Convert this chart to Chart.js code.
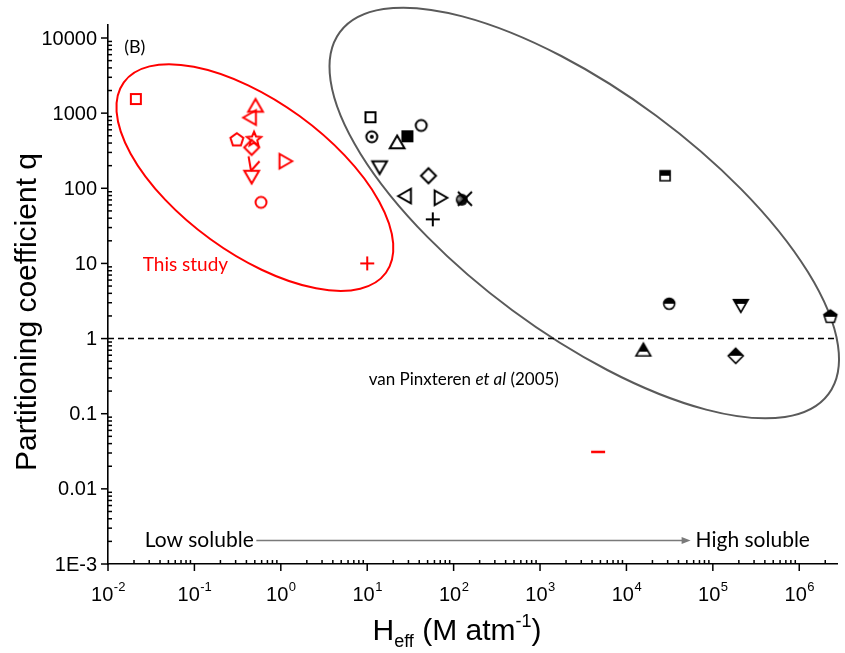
<!DOCTYPE html>
<html lang="en">
<head>
<meta charset="UTF-8">
<title>Partitioning coefficient vs Heff</title>
<script src="https://cdn.jsdelivr.net/npm/chart.js@4"></script>
<style>
  body { margin: 0; background: #fff; }
</style>
</head>
<body>
<canvas id="grafico" width="845" height="653"></canvas>
<script>
// this study (red markers)
const studyH = [0.021, 0.51, 0.46, 0.31, 0.49, 0.46, 1.08, 0.49, 0.46, 0.59, 10, 4700];
const studyQ = [1540, 1190, 875, 440, 450, 350, 229, 206, 150, 65, 10, 0.031];
const studyShapes = ['square', 'triUp', 'triLeft', 'pentagon', 'star', 'diamond', 'triRight', 'check', 'triDown', 'circle', 'plus', 'dash'];

// van Pinxteren et al (2005) (black markers)
const litH = [10.9, 11.3, 22.2, 29.2, 42.2, 13.9, 51.2, 28.6, 67.4, 124, 135, 57.4, 28000, 31300, 211000, 2290000, 15700, 184000];
const litQ = [883, 485, 388, 492, 686, 201, 147, 78.9, 74.7, 70.5, 72.6, 38.6, 147, 2.91, 2.9, 1.95, 0.67, 0.59];
const litShapes = ['square', 'circleDot', 'triUp', 'squareFilled', 'circle', 'triDown', 'diamond', 'triLeft', 'triRight', 'ball', 'cross', 'plus',
  'halfSquare', 'halfCircle', 'halfTriDown', 'halfPentagon', 'halfTriUp', 'halfDiamond'];

// q = 1 reference line
const refH = [0.01, 2.7e6];
const refQ = [1, 1];

const xMin = 0.01, xMax = Math.pow(10, 6.437);
const yMin = 0.001, yMax = Math.pow(10, 4.173);
const yTicks = [0.001, 0.01, 0.1, 1, 10, 100, 1000, 10000];
const yTickLabels = ['1E-3', '0.01', '0.1', '1', '10', '100', '1000', '10000'];
const xTickExp = [-2, -1, 0, 1, 2, 3, 4, 5, 6];

const RED = '#ff0000';
const BLACK = '#000000';

// group outlines (centre in data units, radii in px)
const ellipses = [
  { h: 0.501, q: 139, rx: 162, ry: 76, angle: 36, color: RED },
  { h: 3250, q: 46.9, rx: 304, ry: 121, angle: 36.5, color: '#5a5a5a' }
];

const ARIAL = '"Liberation Sans", Arial, sans-serif';
const CALIBRI = 'Lato, "Open Sans", sans-serif';

// ---- marker pictures ----
function marker(shape, color) {
  const c = document.createElement('canvas');
  c.width = 26; c.height = 26;
  const g = c.getContext('2d');
  g.translate(13, 13);
  g.lineWidth = 2;
  g.strokeStyle = color;
  g.fillStyle = color;
  function poly(r, n, start) {
    g.beginPath();
    for (let i = 0; i < n; i++) {
      const a = start + i * 2 * Math.PI / n;
      if (i) g.lineTo(r * Math.cos(a), r * Math.sin(a));
      else g.moveTo(r * Math.cos(a), r * Math.sin(a));
    }
    g.closePath();
  }
  const up = -Math.PI / 2;
  const outline = {
    square: () => { g.beginPath(); g.rect(-5, -5, 10, 10); },
    triUp: () => poly(8.5, 3, up),
    triDown: () => poly(8.5, 3, Math.PI / 2),
    triLeft: () => poly(8.5, 3, Math.PI),
    triRight: () => poly(8.5, 3, 0),
    diamond: () => poly(7.5, 4, up),
    pentagon: () => poly(6.8, 5, up),
    circle: () => { g.beginPath(); g.arc(0, 0, 5.5, 0, 2 * Math.PI); },
    star: () => {
      g.beginPath();
      for (let i = 0; i < 10; i++) {
        const r = i % 2 ? 3.4 : 7.5;
        const a = up + i * Math.PI / 5;
        if (i) g.lineTo(r * Math.cos(a), r * Math.sin(a));
        else g.moveTo(r * Math.cos(a), r * Math.sin(a));
      }
      g.closePath();
    }
  };
  if (outline[shape]) {
    outline[shape]();
    g.stroke();
  } else if (shape === 'squareFilled') {
    g.fillRect(-6, -6, 12, 12);
  } else if (shape === 'circleDot') {
    outline.circle(); g.stroke();
    g.beginPath(); g.arc(0, 0, 2, 0, 2 * Math.PI); g.fill();
  } else if (shape === 'ball') {
    const grad = g.createRadialGradient(-3, -1, 0.5, 0, 0, 6.5);
    grad.addColorStop(0, '#9a9a9a');
    grad.addColorStop(0.55, '#111');
    grad.addColorStop(1, '#000');
    g.fillStyle = grad;
    g.beginPath(); g.arc(0, 0, 6, 0, 2 * Math.PI); g.fill();
  } else if (shape === 'cross') {
    g.beginPath();
    g.moveTo(-7, -7); g.lineTo(7, 7);
    g.moveTo(7, -7); g.lineTo(-7, 7);
    g.stroke();
  } else if (shape === 'plus') {
    g.beginPath();
    g.moveTo(-7, 0); g.lineTo(7, 0);
    g.moveTo(0, -7); g.lineTo(0, 7);
    g.stroke();
  } else if (shape === 'dash') {
    g.lineWidth = 2.5;
    g.beginPath(); g.moveTo(-7, 0); g.lineTo(7, 0); g.stroke();
  } else if (shape === 'check') {
    g.beginPath();
    g.moveTo(-5.5, -8.5); g.lineTo(-3, 6);
    g.moveTo(5.5, -3.5); g.lineTo(-3, 6);
    g.stroke();
  } else if (shape.startsWith('half')) {
    let base = shape.slice(4);
    base = base.charAt(0).toLowerCase() + base.slice(1);
    outline[base]();
    g.fillStyle = '#fff'; g.fill();
    g.save();
    g.beginPath(); g.rect(-13, -13, 26, 13); g.clip();
    outline[base]();
    g.fillStyle = color; g.fill();
    g.restore();
    outline[base]();
    g.lineWidth = 1.6;
    g.stroke();
  }
  return c;
}
const markerCache = {};
function markerFor(shape, color) {
  const k = shape + color;
  if (!markerCache[k]) markerCache[k] = marker(shape, color);
  return markerCache[k];
}

// ---- axes, ticks, labels, annotations ----
const decor = {
  id: 'decor',
  beforeDatasetsDraw(chart) {
    const { ctx, scales: { x, y } } = chart;
    ellipses.forEach(e => {
      ctx.save();
      ctx.beginPath();
      ctx.ellipse(x.getPixelForValue(e.h), y.getPixelForValue(e.q), e.rx, e.ry, e.angle * Math.PI / 180, 0, 2 * Math.PI);
      ctx.strokeStyle = e.color;
      ctx.lineWidth = 2;
      ctx.stroke();
      ctx.restore();
    });
  },
  afterDraw(chart) {
    const { ctx, chartArea, scales: { x, y } } = chart;
    const L = chartArea.left, B = chartArea.bottom;
    ctx.save();
    ctx.strokeStyle = '#000';
    ctx.fillStyle = '#000';
    ctx.lineWidth = 1.5;
    function seg(x1, y1, x2, y2) { ctx.beginPath(); ctx.moveTo(x1, y1); ctx.lineTo(x2, y2); ctx.stroke(); }

    // y ticks: major outward, minor inward
    ctx.font = '20px ' + ARIAL;
    ctx.textAlign = 'right';
    ctx.textBaseline = 'middle';
    yTicks.forEach((v, i) => {
      const p = y.getPixelForValue(v);
      seg(L - 7, p, L, p);
      ctx.fillText(yTickLabels[i], L - 11, p + 1);
      if (i < yTicks.length - 1) {
        for (let k = 2; k <= 9; k++) {
          const pm = y.getPixelForValue(k * v);
          seg(L, pm, L + 4, pm);
        }
      }
    });

    // x ticks with 10^n labels
    xTickExp.forEach(e => {
      const v = Math.pow(10, e);
      const p = x.getPixelForValue(v);
      seg(p, B, p, B + 7);
      for (let k = 2; k <= 9; k++) {
        if (k * v <= xMax) {
          const pm = x.getPixelForValue(k * v);
          seg(pm, B, pm, B - 4);
        }
      }
      ctx.textAlign = 'left';
      ctx.textBaseline = 'alphabetic';
      ctx.font = '20px ' + ARIAL;
      const w1 = ctx.measureText('10').width;
      ctx.font = '13px ' + ARIAL;
      const w2 = ctx.measureText(String(e)).width;
      const x0 = p - (w1 + w2) / 2;
      ctx.font = '20px ' + ARIAL;
      ctx.fillText('10', x0, 601);
      ctx.font = '13px ' + ARIAL;
      ctx.fillText(String(e), x0 + w1 + 0.5, 591);
    });

    // axis titles
    ctx.save();
    ctx.translate(28, 312);
    ctx.rotate(-Math.PI / 2);
    ctx.font = '30px ' + ARIAL;
    ctx.textAlign = 'center';
    ctx.textBaseline = 'middle';
    ctx.fillText('Partitioning coefficient q', 0, 0);
    ctx.restore();

    const parts = [
      { t: 'H', f: 30, dy: 0 },
      { t: 'eff', f: 18, dy: 7 },
      { t: ' (M atm', f: 30, dy: 0 },
      { t: '-1', f: 18, dy: -13 },
      { t: ')', f: 30, dy: 0 }
    ];
    let tw = 0;
    parts.forEach(pt => { ctx.font = pt.f + 'px ' + ARIAL; pt.w = ctx.measureText(pt.t).width; tw += pt.w; });
    let cx = 457 - tw / 2;
    ctx.textAlign = 'left';
    ctx.textBaseline = 'alphabetic';
    parts.forEach(pt => { ctx.font = pt.f + 'px ' + ARIAL; ctx.fillText(pt.t, cx, 640 + pt.dy); cx += pt.w; });

    // annotations
    ctx.textBaseline = 'middle';
    ctx.font = '18px ' + CALIBRI;
    ctx.textAlign = 'center';
    ctx.fillText('(B)', x.getPixelForValue(0.0204), y.getPixelForValue(7590));

    ctx.fillStyle = RED;
    ctx.font = '19px ' + CALIBRI;
    ctx.fillText('This study', x.getPixelForValue(0.0787), y.getPixelForValue(9.53));

    ctx.fillStyle = '#000';
    ctx.textAlign = 'left';
    let vx = x.getPixelForValue(10.4);
    const vy = y.getPixelForValue(0.281);
    [['van Pinxteren ', ''], ['et al', 'italic '], [' (2005)', '']].forEach(([t, st]) => {
      ctx.font = st + '17px ' + CALIBRI;
      ctx.fillText(t, vx, vy);
      vx += ctx.measureText(t).width;
    });

    const ay = y.getPixelForValue(0.00205);
    ctx.font = '21px ' + CALIBRI;
    ctx.fillText('Low soluble', x.getPixelForValue(0.02655), ay);
    ctx.fillText('High soluble', x.getPixelForValue(63100), ay);

    const a1 = x.getPixelForValue(0.521), a2 = x.getPixelForValue(55300);
    ctx.strokeStyle = '#7a7a7a';
    ctx.fillStyle = '#7a7a7a';
    ctx.lineWidth = 1.5;
    seg(a1, ay, a2 - 6, ay);
    ctx.beginPath();
    ctx.moveTo(a2, ay);
    ctx.lineTo(a2 - 9, ay - 3.5);
    ctx.lineTo(a2 - 9, ay + 3.5);
    ctx.closePath();
    ctx.fill();
    ctx.restore();
  }
};

const config = {
  type: 'scatter',
  data: {
    datasets: [
      {
        label: 'This study',
        data: studyH.map((h, i) => ({ x: h, y: studyQ[i] })),
        pointStyle: c => markerFor(studyShapes[c.dataIndex], RED),
        pointRadius: 7,
        clip: false
      },
      {
        label: 'van Pinxteren et al (2005)',
        data: litH.map((h, i) => ({ x: h, y: litQ[i] })),
        pointStyle: c => markerFor(litShapes[c.dataIndex], BLACK),
        pointRadius: 7,
        clip: false
      },
      {
        label: 'q = 1',
        data: refH.map((h, i) => ({ x: h, y: refQ[i] })),
        showLine: true,
        pointRadius: 0,
        borderColor: '#000',
        borderWidth: 1.5,
        borderDash: [6, 4]
      }
    ]
  },
  options: {
    responsive: false,
    animation: false,
    devicePixelRatio: 1,
    layout: { padding: { left: 108, top: 25, right: 0, bottom: 89 } },
    plugins: { legend: { display: false }, tooltip: { enabled: false } },
    scales: {
      x: {
        type: 'logarithmic', min: xMin, max: xMax,
        ticks: { display: false },
        grid: { display: false, drawTicks: false },
        border: { display: true, color: '#000', width: 1.6 }
      },
      y: {
        type: 'logarithmic', min: yMin, max: yMax,
        ticks: { display: false },
        grid: { display: false, drawTicks: false },
        border: { display: true, color: '#000', width: 1.6 }
      }
    }
  },
  plugins: [decor]
};

new Chart(document.getElementById('grafico'), config);
</script>
</body>
</html>
